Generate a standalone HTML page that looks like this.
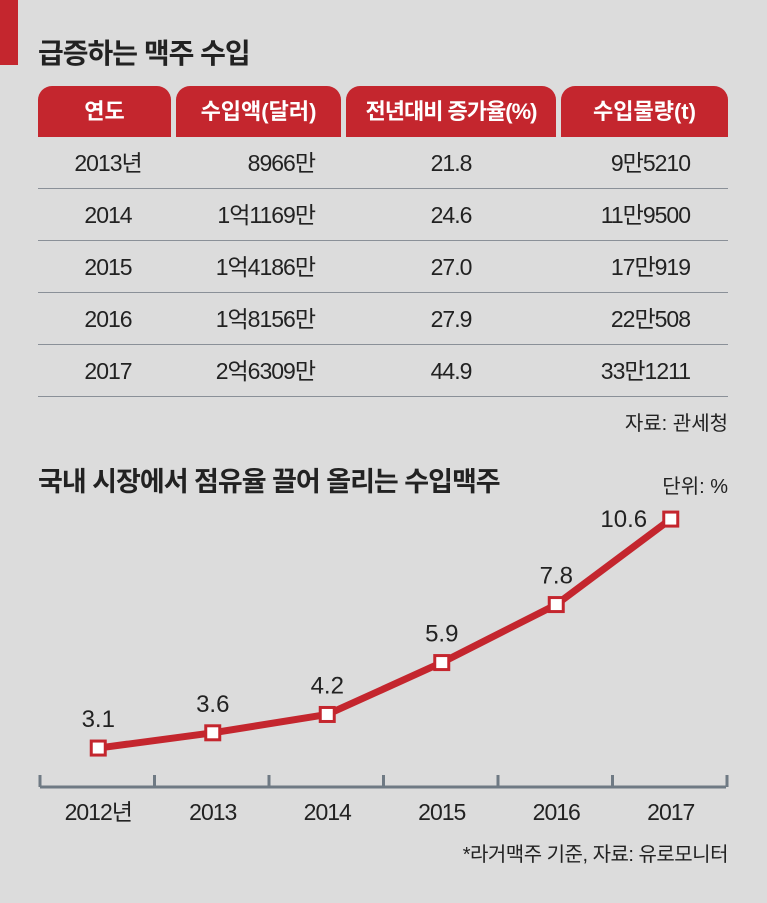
<!DOCTYPE html>
<html><head><meta charset="utf-8">
<style>
body{margin:0;background:#dcdcdc;}
#root{position:relative;width:767px;height:903px;background:#dcdcdc;font-family:"Liberation Sans","Noto Sans CJK KR",sans-serif;color:#222;overflow:hidden}
.abs{position:absolute}
.hd{position:absolute;top:86px;height:51px;background:#c4262e;color:#fff;border-radius:14px 14px 0 0;font-size:22px;line-height:51px;text-align:center;font-weight:bold}
.cell{position:absolute;font-size:23px;line-height:52px;letter-spacing:-1px}
.line{position:absolute;left:38px;width:690px;height:1px;background:#8a9098}
</style></head><body>
<div id="root">
<div class="abs" style="left:0;top:0;width:18px;height:65px;background:#c4262e"></div>
<div class="abs" style="left:38px;top:32px;font-size:28px;font-weight:bold;letter-spacing:-1px">급증하는 맥주 수입</div>
<div class="hd" style="left:38px;width:133px">연도</div>
<div class="hd" style="left:176px;width:165px">수입액(달러)</div>
<div class="hd" style="left:346px;width:210px;letter-spacing:-1px">전년대비 증가율(%)</div>
<div class="hd" style="left:561px;width:167px">수입물량(t)</div>
<div id="rows"></div>
<div class="abs" style="right:39px;top:407px;font-size:20px">자료: 관세청</div>
<div class="abs" style="left:38px;top:460px;font-size:27px;font-weight:bold;letter-spacing:-1px">국내 시장에서 점유율 끌어 올리는 수입맥주</div>
<div class="abs" style="right:39px;top:470px;font-size:20px">단위: %</div>
<svg class="abs" style="left:0;top:0" width="767" height="903" id="chart"></svg>
<div class="abs" style="right:39px;top:838px;font-size:20px;letter-spacing:-0.5px">*라거맥주 기준, 자료: 유로모니터</div>
</div>
<script>
const tYears=["2013년","2014","2015","2016","2017"];
const tAmount=["8966만","1억1169만","1억4186만","1억8156만","2억6309만"];
const tRate=["21.8","24.6","27.0","27.9","44.9"];
const tVolume=["9만5210","11만9500","17만919","22만508","33만1211"];
const categories=["2012년","2013","2014","2015","2016","2017"];
const shares=[3.1,3.6,4.2,5.9,7.8,10.6];
const shareLabels=["3.1","3.6","4.2","5.9","7.8","10.6"];

const rows=document.getElementById('rows');
tYears.forEach((y,i)=>{
  const top=137+i*52;
  const mk=(txt,css,name)=>{const d=document.createElement('div');d.className='cell';d.style.cssText=css+';top:'+top+'px';d.textContent=txt;
    
    
    rows.appendChild(d);};
  mk(y,'left:38px;width:140px;text-align:center','table-year');
  mk(tAmount[i],'right:452px;text-align:right','table-amount');
  mk(tRate[i],'left:346px;width:210px;text-align:center','table-rate');
  mk(tVolume[i],'right:77px;text-align:right','table-volume');
  const l=document.createElement('div');l.className='line';l.style.top=(top+51)+'px';
  
  
  rows.appendChild(l);
});

const svg=document.getElementById('chart');const NS='http://www.w3.org/2000/svg';
const x0=41,step=114.5,yBase=842.7,scale=30.53,axisY=787;
const xp=i=>x0+step*(i+0.5);
const yp=v=>yBase-v*scale;
function el(t,a,name){const e=document.createElementNS(NS,t);for(const k in a)e.setAttribute(k,a[k]);
  
  
  svg.appendChild(e);return e;}
el('line',{x1:40,x2:726,y1:axisY,y2:axisY,stroke:'#6f7a84','stroke-width':3},'x-axis');
for(let i=0;i<=categories.length;i++){
  el('line',{x1:40+step*i,x2:40+step*i,y1:axisY-12,y2:axisY,stroke:'#6f7a84','stroke-width':3},'x-tick');
}
categories.forEach((c,i)=>{const t=el('text',{x:xp(i),y:axisY+33,'text-anchor':'middle','font-size':23,'letter-spacing':'-1',fill:'#222'},'x-tick-label');t.textContent=c;});
el('polyline',{points:shares.map((v,i)=>xp(i)+','+yp(v)).join(' '),fill:'none',stroke:'#c4262e','stroke-width':7,'stroke-linejoin':'round'},'share-line');
shares.forEach((v,i)=>{
  el('rect',{x:xp(i)-7,y:yp(v)-7,width:14,height:14,fill:'#fff',stroke:'#c4262e','stroke-width':3},'share-point');
  const last=i===shares.length-1;
  const t=el('text',{x:last?xp(i)-47:xp(i),y:last?yp(v)+8:yp(v)-21,'text-anchor':'middle','font-size':24,fill:'#222'},'share-value-label');t.textContent=shareLabels[i];
});
</script>
</body></html>
